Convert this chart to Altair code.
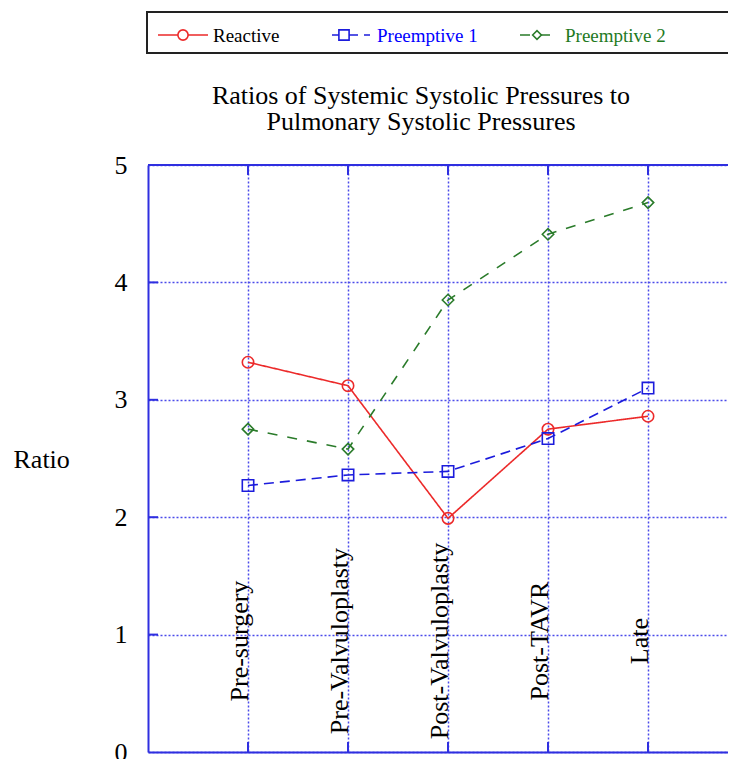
import altair as alt
import pandas as pd

# ---- data ----
stages = ["Pre-surgery", "Pre-Valvuloplasty", "Post-Valvuloplasty", "Post-TAVR", "Late"]
series_names = ["Reactive", "Preemptive 1", "Preemptive 2"]
reactive = [3.32, 3.12, 1.99, 2.75, 2.86]
preemptive1 = [2.27, 2.36, 2.39, 2.67, 3.10]
preemptive2 = [2.75, 2.58, 3.85, 4.41, 4.68]
y_ticks = [0, 1, 2, 3, 4, 5]
title_lines = ["Ratios of Systemic Systolic Pressures to", "Pulmonary Systolic Pressures"]
y_title = "Ratio"

# ---- styles ----
FONT = "Liberation Serif"
AXIS_BLUE = "#2f2fe0"
GRID_BLUE = "#4b4bea"
series_colors = ["#ec2a2a", "#1c1cdc", "#2a7b2a"]
label_colors = ["#000000", "#0000ff", "#1f7a1f"]
series_dash = [[1, 0], [10, 6], [10, 10]]
series_shape = ["circle", "square", "diamond"]
series_size = [130, 130, 95]

rows = []
for name, vals in zip(series_names, [reactive, preemptive1, preemptive2]):
    for st, v in zip(stages, vals):
        rows.append({"series": name, "stage": st, "ratio": v})
df = pd.DataFrame(rows)
stage_df = pd.DataFrame({"stage": stages})
ytick_df = pd.DataFrame({"v": y_ticks[1:-1]})

W = 580
x_scale = alt.Scale(type="point", domain=stages, padding=0.9, align=0.5556)
y_scale = alt.Scale(domain=[0, 5], nice=False, zero=True)

x_axis = alt.Axis(title=None, labels=False, ticks=False, domain=True,
                  domainColor=AXIS_BLUE, domainWidth=2, grid=True,
                  gridColor=GRID_BLUE, gridDash=[2, 2], gridWidth=1.5, gridOpacity=1)
y_axis = alt.Axis(title=y_title, values=y_ticks, format="d", titleAngle=0, titleAlign="left",
                  titleBaseline="middle", titleX=-135, titleY=294, titleFont=FONT,
                  titleFontSize=26, titleFontWeight="normal", titleColor="black",
                  labelFont=FONT, labelFontSize=26, labelColor="black", labelPadding=21,
                  ticks=False, tickSize=0, domain=True, domainColor=AXIS_BLUE, domainWidth=2,
                  grid=True, gridColor=GRID_BLUE, gridDash=[2, 2], gridWidth=1.5, gridOpacity=1)

color_enc = alt.Color("series:N", scale=alt.Scale(domain=series_names, range=series_colors), legend=None)
dash_enc = alt.StrokeDash("series:N", scale=alt.Scale(domain=series_names, range=series_dash), legend=None)
shape_enc = alt.Shape("series:N", scale=alt.Scale(domain=series_names, range=series_shape), legend=None)
size_enc = alt.Size("series:N", scale=alt.Scale(domain=series_names, range=series_size), legend=None)

X = alt.X("stage:N", scale=x_scale, axis=x_axis, sort=stages)
Y = alt.Y("ratio:Q", scale=y_scale, axis=y_axis)

lines = alt.Chart(df).mark_line(strokeWidth=1.6).encode(
    x=X, y=Y, color=color_enc, strokeDash=dash_enc, detail="series:N")
points = alt.Chart(df).mark_point(filled=False, strokeWidth=1.6, opacity=1).encode(
    x=X, y=Y, color=color_enc, shape=shape_enc, size=size_enc)

top_line = alt.Chart(stage_df).mark_rule(color=AXIS_BLUE, strokeWidth=2).encode(
    y=alt.Y(datum=5, scale=y_scale))
top_ticks = alt.Chart(stage_df).mark_rule(color=AXIS_BLUE, strokeWidth=2).encode(
    x=alt.X("stage:N", scale=x_scale, axis=x_axis, sort=stages),
    y=alt.Y(datum=5, scale=y_scale), y2=alt.Y2(datum=4.915))
bottom_ticks = alt.Chart(stage_df).mark_rule(color=AXIS_BLUE, strokeWidth=2).encode(
    x=alt.X("stage:N", scale=x_scale, axis=x_axis, sort=stages),
    y=alt.Y(datum=0, scale=y_scale), y2=alt.Y2(datum=0.085))
left_ticks = alt.Chart(ytick_df).mark_rule(color=AXIS_BLUE, strokeWidth=2).encode(
    y=alt.Y("v:Q", scale=y_scale, axis=y_axis), x=alt.value(0), x2=alt.value(10))

cat_labels = alt.Chart(stage_df).mark_text(
    angle=270, align="center", baseline="alphabetic", font=FONT, fontSize=26, color="black"
).encode(x=alt.X("stage:N", scale=x_scale, axis=x_axis, sort=stages),
         y=alt.Y(datum=0.945, scale=y_scale), text="stage:N")

# title, one text layer per line
title_layers = []
for i, line in enumerate(title_lines):
    title_layers.append(alt.Chart(stage_df.head(1)).mark_text(
        font=FONT, fontSize=26, align="center", baseline="alphabetic", color="black"
    ).encode(x=alt.value(273), y=alt.value(-61 + 26 * i), text=alt.value(line)))

# legend
legend_df = pd.DataFrame({"series": series_names})
legend_layers = [alt.Chart(legend_df.head(1)).mark_rect(fill="white", stroke="#222222", strokeWidth=2).encode(
    x=alt.value(-1), x2=alt.value(640), y=alt.value(-153), y2=alt.value(-112))]
leg_y = -130
leg_line = [(10, 60), (184, 222), (372, 410)]
leg_marker = [35, 196, 389]
leg_text = [65, 229, 417]
for i, name in enumerate(series_names):
    one = legend_df.iloc[[i]]
    legend_layers.append(alt.Chart(one).mark_rule(
        color=series_colors[i], strokeDash=series_dash[i], strokeWidth=1.6).encode(
        x=alt.value(leg_line[i][0]), x2=alt.value(leg_line[i][1]), y=alt.value(leg_y)))
    legend_layers.append(alt.Chart(one).mark_point(
        shape=series_shape[i], filled=False, fill="white", size=series_size[i] * 0.8,
        color=series_colors[i], strokeWidth=1.6, opacity=1).encode(
        x=alt.value(leg_marker[i]), y=alt.value(leg_y)))
    legend_layers.append(alt.Chart(one).mark_text(
        font=FONT, fontSize=19, align="left", baseline="alphabetic",
        color=label_colors[i]).encode(x=alt.value(leg_text[i]), y=alt.value(leg_y + 7),
                                       text="series:N"))

chart = alt.layer(
    lines, points, top_line, top_ticks, bottom_ticks, left_ticks, cat_labels,
    *title_layers, *legend_layers
).properties(
    width=W, height=587,
    padding={"left": 140, "top": 157, "right": 0, "bottom": 7},
    autosize=alt.AutoSizeParams(type="none"),
    background="white",
).configure_view(stroke=None)

chart.save("out.html", embed_options={"renderer": "svg", "actions": False})
